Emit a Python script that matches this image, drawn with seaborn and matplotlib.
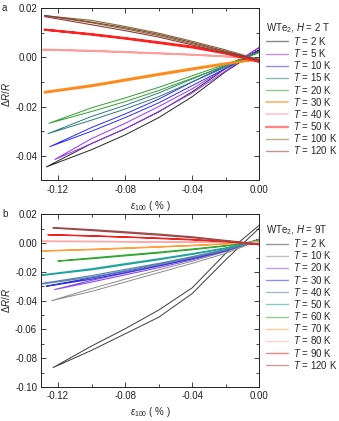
import matplotlib
matplotlib.use("Agg")
import matplotlib.pyplot as plt
from matplotlib.lines import Line2D
from matplotlib.ticker import MultipleLocator, FuncFormatter
import pandas as pd
import seaborn as sns

# strain grid shared by all curves (after the left turning point)
grid = [-0.10, -0.08, -0.06, -0.04, -0.02, 0.0]

# ---- panel a : H = 2 T ----
temps_a = ["2 K", "5 K", "10 K", "15 K", "20 K", "30 K", "40 K", "50 K", "100 K", "120 K"]
colors_a = ["#262626", "#9b30ff", "#2b2bff", "#2e7b7b", "#30a030",
            "#ff8a1a", "#ff9c9c", "#ff2020", "#7f7234", "#8e3b3b"]
lw_a = [0.7, 0.7, 0.7, 0.7, 0.7, 1.3, 1.2, 1.5, 0.8, 0.8]
start_a = [-0.127, -0.122, -0.125, -0.126, -0.1255, -0.128, -0.129, -0.128, -0.127, -0.128]
out_a = [
    [-0.0445, -0.0375, -0.0315, -0.0245, -0.0160, -0.0058, 0.0030],
    [-0.0415, -0.0350, -0.0290, -0.0220, -0.0145, -0.0055, 0.0040],
    [-0.0363, -0.0300, -0.0245, -0.0185, -0.0115, -0.0045, 0.0025],
    [-0.0310, -0.0255, -0.0210, -0.0160, -0.0100, -0.0040, 0.0022],
    [-0.0268, -0.0220, -0.0180, -0.0135, -0.0085, -0.0035, 0.0020],
    [-0.0144, -0.0118, -0.0095, -0.0072, -0.0050, -0.0028, -0.0008],
    [0.0030, 0.0025, 0.0020, 0.0015, 0.0010, 0.0003, -0.0008],
    [0.0112, 0.0092, 0.0076, 0.0058, 0.0040, 0.0015, -0.0018],
    [0.0168, 0.0140, 0.0115, 0.0088, 0.0055, 0.0022, -0.0010],
    [0.0170, 0.0143, 0.0120, 0.0093, 0.0060, 0.0025, -0.0012],
]
back_a = [
    [-0.0445, -0.0350, -0.0290, -0.0222, -0.0140, -0.0045, 0.0030],
    [-0.0415, -0.0330, -0.0268, -0.0200, -0.0128, -0.0045, 0.0040],
    [-0.0363, -0.0285, -0.0230, -0.0170, -0.0100, -0.0035, 0.0025],
    [-0.0310, -0.0240, -0.0195, -0.0145, -0.0088, -0.0032, 0.0022],
    [-0.0268, -0.0205, -0.0165, -0.0122, -0.0075, -0.0028, 0.0020],
    [-0.0140, -0.0113, -0.0090, -0.0067, -0.0045, -0.0024, -0.0008],
    [0.0032, 0.0027, 0.0022, 0.0017, 0.0011, 0.0004, -0.0008],
    [0.0112, 0.0094, 0.0078, 0.0061, 0.0043, 0.0018, -0.0018],
    [0.0168, 0.0150, 0.0125, 0.0098, 0.0065, 0.0030, -0.0010],
    [0.0165, 0.0132, 0.0108, 0.0082, 0.0050, 0.0018, -0.0012],
]

# ---- panel b : H = 9 T ----
temps_b = ["2 K", "10 K", "20 K", "30 K", "40 K", "50 K", "60 K", "70 K", "80 K", "90 K", "120 K"]
colors_b = ["#3c3c3c", "#8c8c8c", "#8a4cf0", "#2c34d8", "#5a84a8", "#1ea39e",
            "#33a833", "#ffa040", "#ffa8a8", "#ee2020", "#a04848"]
lw_b = [0.7, 0.7, 0.8, 0.8, 0.8, 0.8, 0.8, 0.9, 0.9, 0.9, 0.8]
start_b = [-0.123, -0.124, -0.122, -0.127, -0.130, -0.130, -0.120, -0.130, -0.130, -0.126, -0.123]
out_b = [
    [-0.0865, -0.0745, -0.0630, -0.0515, -0.0350, -0.0115, 0.0105],
    [-0.0400, -0.0335, -0.0270, -0.0205, -0.0140, -0.0070, 0.0020],
    [-0.0322, -0.0270, -0.0220, -0.0170, -0.0115, -0.0055, 0.0025],
    [-0.0300, -0.0250, -0.0205, -0.0158, -0.0108, -0.0052, 0.0028],
    [-0.0285, -0.0235, -0.0192, -0.0148, -0.0100, -0.0048, 0.0025],
    [-0.0225, -0.0185, -0.0150, -0.0115, -0.0078, -0.0036, 0.0022],
    [-0.0125, -0.0108, -0.0088, -0.0068, -0.0045, -0.0020, 0.0015],
    [-0.0055, -0.0045, -0.0036, -0.0027, -0.0017, -0.0006, 0.0010],
    [0.0012, 0.0010, 0.0009, 0.0008, 0.0007, 0.0005, 0.0002],
    [0.0058, 0.0050, 0.0042, 0.0033, 0.0023, 0.0010, -0.0010],
    [0.0110, 0.0095, 0.0080, 0.0064, 0.0045, 0.0020, -0.0005],
]
back_b = [
    [-0.0865, -0.0715, -0.0595, -0.0465, -0.0310, -0.0070, 0.0125],
    [-0.0400, -0.0315, -0.0250, -0.0185, -0.0125, -0.0058, 0.0020],
    [-0.0322, -0.0258, -0.0208, -0.0158, -0.0105, -0.0048, 0.0025],
    [-0.0298, -0.0240, -0.0195, -0.0148, -0.0098, -0.0045, 0.0028],
    [-0.0280, -0.0225, -0.0182, -0.0140, -0.0093, -0.0042, 0.0025],
    [-0.0220, -0.0177, -0.0142, -0.0108, -0.0072, -0.0032, 0.0022],
    [-0.0123, -0.0102, -0.0082, -0.0062, -0.0040, -0.0016, 0.0015],
    [-0.0053, -0.0042, -0.0033, -0.0024, -0.0015, -0.0004, 0.0010],
    [0.0016, 0.0014, 0.0012, 0.0010, 0.0009, 0.0006, 0.0002],
    [0.0060, 0.0052, 0.0044, 0.0036, 0.0026, 0.0013, -0.0010],
    [0.0105, 0.0088, 0.0072, 0.0056, 0.0038, 0.0015, -0.0005],
]

sns.set_theme(style="ticks")
plt.rcParams["font.family"] = ["Liberation Sans", "DejaVu Sans"]
plt.rcParams["mathtext.fontset"] = "custom"
plt.rcParams["mathtext.rm"] = "Liberation Sans"
plt.rcParams["mathtext.it"] = "Liberation Sans:italic"
plt.rcParams["font.size"] = 7


def loop_frame(temps, starts, outs, backs):
    # one closed path per temperature: out to the turning point, then back
    rows = []
    for t, xs, yo, yb in zip(temps, starts, outs, backs):
        xpts = [xs] + grid
        for x, y in reversed(list(zip(xpts, yo))):
            rows.append((x, y, t))
        for x, y in zip(xpts, yb):
            rows.append((x, y, t))
    return pd.DataFrame(rows, columns=["strain", "dR", "T"])


def fmt(v, pos):
    s = f"{v:.2f}"
    return "0.00" if s == "-0.00" else s


def draw(ax, temps, colors, lws, starts, outs, backs, ylim, title, leg_y):
    df = loop_frame(temps, starts, outs, backs)
    sns.lineplot(data=df, x="strain", y="dR", hue="T", size="T", units="T",
                 estimator=None, sort=False, palette=dict(zip(temps, colors)),
                 sizes=dict(zip(temps, lws)), legend=False, ax=ax)
    ax.set_xlim(-0.13, 0.0)
    ax.set_ylim(*ylim)
    ax.xaxis.set_major_locator(MultipleLocator(0.04))
    ax.xaxis.set_minor_locator(MultipleLocator(0.02))
    ax.yaxis.set_major_locator(MultipleLocator(0.02))
    ax.yaxis.set_minor_locator(MultipleLocator(0.01))
    ax.xaxis.set_major_formatter(FuncFormatter(fmt))
    ax.yaxis.set_major_formatter(FuncFormatter(fmt))
    ax.tick_params(which="both", direction="in", top=True, right=True,
                   labelsize=7, width=0.6, pad=3, colors="#222222")
    ax.tick_params(which="major", length=3.5)
    ax.tick_params(which="minor", length=2)
    for s in ax.spines.values():
        s.set_linewidth(0.7)
        s.set_color("#222222")
    ax.set_xlabel(r"$\varepsilon_{100}$ ( % )", fontsize=7, labelpad=3)
    ax.set_ylabel(r"$\Delta R/R$", fontsize=7)
    ax.yaxis.set_label_coords(-0.135, 0.5)

    handles = []
    for t, c, w in zip(temps, colors, lws):
        handles.append(Line2D([], [], color=c, lw=max(w, 0.9) * 1.1, alpha=0.55))
    labels = [rf"$T$ = {t}" for t in temps]
    ax.legend(handles, labels, title=title, loc="upper left",
              bbox_to_anchor=(1.03, leg_y), frameon=False, fontsize=7,
              title_fontsize=7, handlelength=2.3, handletextpad=0.5,
              labelspacing=0.02, borderpad=0, borderaxespad=0,
              alignment="left")


fig = plt.figure(figsize=(3.39, 4.21), dpi=100)
ax_a = fig.add_axes([0.1218, 0.5713, 0.643, 0.4097])
ax_b = fig.add_axes([0.1218, 0.0808, 0.643, 0.4097])

draw(ax_a, temps_a, colors_a, lw_a, start_a, out_a, back_a, (-0.05, 0.02),
     r"WTe$_2$, $H$ = 2 T", 0.925)
draw(ax_b, temps_b, colors_b, lw_b, start_b, out_b, back_b, (-0.10, 0.02),
     r"WTe$_2$, $H$ = 9T", 0.95)

fig.text(0.006, 0.993, "a", fontsize=7, va="top")
fig.text(0.006, 0.503, "b", fontsize=7, va="top")

fig.savefig("out.png", dpi=100)
